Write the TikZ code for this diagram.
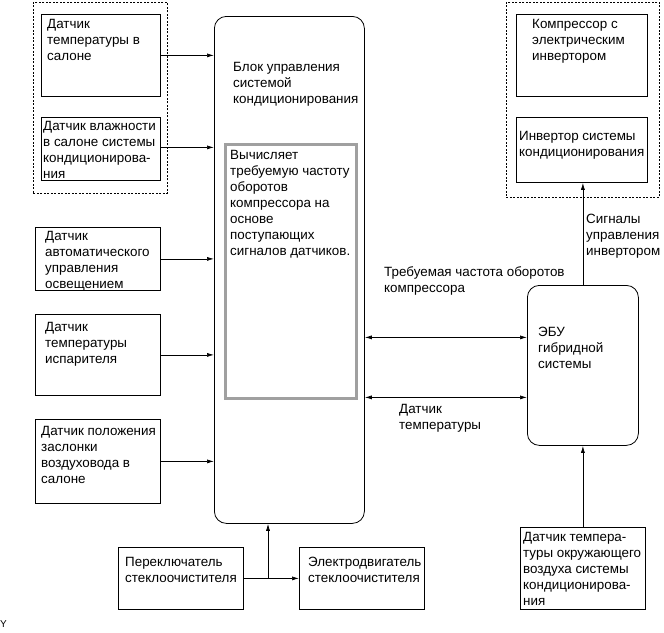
\documentclass[tikz,border=0pt]{standalone}
\usepackage{fontspec}
\setmainfont{Liberation Sans}
\usetikzlibrary{arrows.meta,calc}
\definecolor{framegray}{RGB}{160,160,160}
\tikzset{
  box/.style={draw, line width=0.8pt, inner sep=0, anchor=north west},
  grp/.style={draw, line width=0.7pt, dash pattern=on 2pt off 1.5pt, inner sep=0, anchor=north west},
  txt/.style={font=\fontsize{13.4}{16}\selectfont, align=left, anchor=north west, inner sep=0},
  arr/.style={line width=0.7pt, -{Latex[length=7pt,width=4pt]}},
  darr/.style={line width=0.7pt, {Latex[length=7pt,width=4pt]}-{Latex[length=7pt,width=4pt]}},
}
\newcommand{\bx}[5]{\node[box, minimum width=#3-#1, minimum height=#4-#2] (#5) at (#1,#2) {};}
\begin{document}
\begin{tikzpicture}[x=1pt,y=-1pt]
\useasboundingbox (0,0) rectangle (664,632);
% groups
\node[grp, minimum width=134, minimum height=191] (gl) at (33,2) {};
\node[grp, minimum width=153, minimum height=195] (gr) at (506,2) {};
% left boxes
\bx{41}{14}{160}{96}{b1}
\bx{41}{117}{160}{180}{b2}
\bx{35}{227}{160}{290}{b3}
\bx{35}{314}{160}{395}{b4}
\bx{35}{419}{160}{503}{b5}
\node[txt] (t1) at (47,19) {Датчик\\температуры в\\салоне};
\node[txt] (t2) at (43,121) {Датчик влажности\\в салоне системы\\кондиционирова-\\ния};
\node[txt] (t3) at (45,231) {Датчик\\автоматического\\управления\\освещением};
\node[txt] (t4) at (45,322) {Датчик\\температуры\\испарителя};
\node[txt] (t5) at (41,426) {Датчик положения\\заслонки\\воздуховода в\\салоне};
% main block
\node[box, rounded corners=12pt, minimum width=150, minimum height=507] (main) at (214,16) {};
\node[txt] (tm) at (233,62) {Блок управления\\системой\\кондиционирования};
\node[draw=framegray, line width=3pt, inner sep=0, anchor=north west, minimum width=131, minimum height=254] (calc) at (224,143) {};
\node[txt] (tc) at (230,150) {Вычисляет\\требуемую частоту\\оборотов\\компрессора на\\основе\\поступающих\\сигналов датчиков.};
% right boxes
\bx{516}{14}{647}{96}{comp}
\bx{516}{117}{647}{182}{inv}
\node[txt] (tcomp) at (532,19) {Компрессор с\\электрическим\\инвертором};
\node[txt] (tinv) at (519,131) {Инвертор системы\\кондиционирования};
\node[box, rounded corners=12pt, minimum width=111, minimum height=160] (ecu) at (527,285) {};
\node[txt] (tecu) at (538,327) {ЭБУ\\гибридной\\системы};
\bx{520}{527}{645}{609}{amb}
\node[txt] (tamb) at (523,532) {Датчик темпера-\\туры окружающего\\воздуха системы\\кондиционирова-\\ния};
% bottom boxes
\bx{118}{547}{243}{609}{sw}
\bx{299}{547}{424}{609}{mot}
\node[txt] (tsw) at (125,557) {Переключатель\\стеклоочистителя};
\node[txt] (tmot) at (308,557) {Электродвигатель\\стеклоочистителя};
% labels
\node[txt] (lreq) at (384,266) {Требуемая частота оборотов\\компрессора};
\node[txt] (ltemp) at (399,404) {Датчик\\температуры};
\node[txt] (lsig) at (586,214) {Сигналы\\управления\\инвертором};
\node[font=\fontsize{10}{11}\selectfont, anchor=west, inner sep=0] (ycode) at (0,624) {Y};
% connectors
\draw[arr] (b1.east) -- (b1.east -| main.west);
\draw[arr] ([yshift=1.5pt]b2.east) -- ([yshift=1.5pt]b2.east -| main.west);
\draw[arr] (b3.east) -- (b3.east -| main.west);
\draw[arr] (b4.east) -- (b4.east -| main.west);
\draw[arr] (b5.east) -- (b5.east -| main.west);
\draw[darr] ([yshift=28pt]ecu.west -| main.east) -- ([yshift=28pt]ecu.west);
\draw[darr] ([yshift=-32pt]ecu.west -| main.east) -- ([yshift=-32pt]ecu.west);
\draw[arr] (ecu.north) -- (ecu.north |- inv.south);
\draw[arr] (amb.north) -- (amb.north |- ecu.south);
\draw[arr] (sw.east) -- (mot.west);
\coordinate (j) at (268,578);
\draw[arr] (j) -- (j |- main.south);
\end{tikzpicture}
\end{document}
